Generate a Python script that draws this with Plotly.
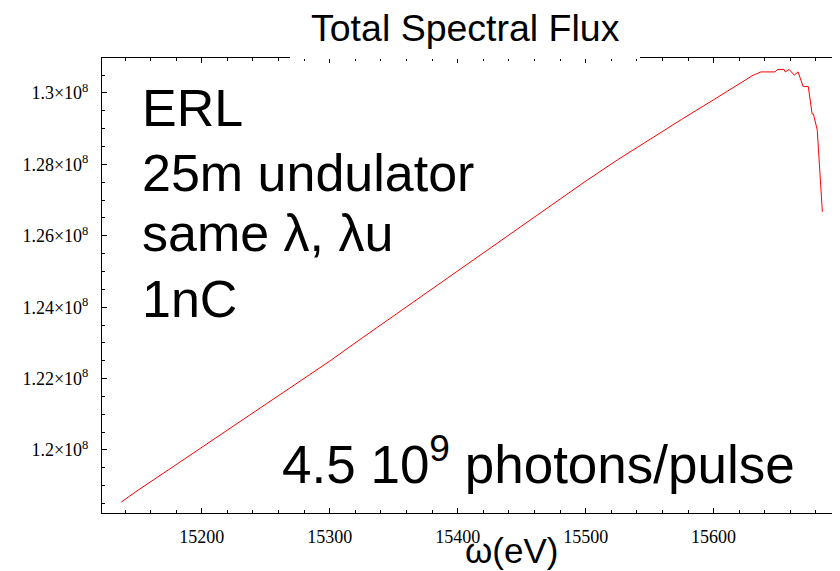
import plotly.graph_objects as go

# Data
energy_eV = [15137, 15150, 15175, 15200, 15225, 15250, 15275, 15300, 15325, 15350,
             15375, 15400, 15425, 15450, 15475, 15500, 15525, 15550, 15575, 15600,
             15623, 15630, 15637, 15648, 15650, 15655, 15656, 15659, 15663, 15666,
             15670, 15674, 15677, 15678, 15681, 15685]
flux = [1.1854e8, 1.1887e8, 1.1947e8, 1.2007e8, 1.2067e8, 1.2128e8, 1.2188e8, 1.2249e8,
        1.2313e8, 1.2376e8, 1.2439e8, 1.2502e8, 1.2565e8, 1.2628e8, 1.2691e8, 1.2753e8,
        1.2813e8, 1.2870e8, 1.2926e8, 1.2981e8, 1.3031e8, 1.3048e8, 1.3059e8, 1.3059e8,
        1.3066e8, 1.3066e8, 1.3059e8, 1.3066e8, 1.3050e8, 1.3059e8, 1.3018e8, 1.3018e8,
        1.2941e8, 1.2941e8, 1.2896e8, 1.2667e8]

x_ticks = [15200, 15300, 15400, 15500, 15600]
x_tick_text = ["15200", "15300", "15400", "15500", "15600"]
y_tick_vals = [1.20e8, 1.22e8, 1.24e8, 1.26e8, 1.28e8, 1.30e8]
y_tick_text = ["1.2×10<sup>8</sup>", "1.22×10<sup>8</sup>", "1.24×10<sup>8</sup>",
               "1.26×10<sup>8</sup>", "1.28×10<sup>8</sup>", "1.3×10<sup>8</sup>"]

title_text = "Total Spectral Flux"
x_title = "ω(eV)"
note_lines = ["ERL", "25m undulator", "same λ, λu", "1nC"]
photons_text = "4.5 10<sup>9</sup> photons/pulse"

# page has an 8px body margin; the figure is sized to end at the window edge
OFF = 8
W, H = 840 - OFF, 571 - OFF
L, R, T, B = 102, 839, 58, 513  # plot frame in window pixels


def px(x):
    return (x - L) / (R - L)


def py(y):
    return (B - y) / (B - T)


fig = go.Figure()
fig.add_trace(go.Scatter(x=energy_eV, y=flux, mode="lines",
                         line=dict(color="#ff0000", width=1), showlegend=False))

serif = "Liberation Serif, Times New Roman, serif"
sans = "Liberation Sans, Arial, sans-serif"

fig.update_layout(
    width=W, height=H,
    margin=dict(l=L - OFF, r=W - (R - OFF), t=T - OFF, b=H - (B - OFF), autoexpand=False),
    paper_bgcolor="white", plot_bgcolor="white",
    xaxis=dict(range=[15122, 15698], tickvals=x_ticks, ticktext=x_tick_text,
               ticks="inside", ticklen=5, automargin=False,
               tickcolor="black", showline=True, linecolor="black", linewidth=1,
               mirror="allticks", showgrid=False, zeroline=False,
               tickfont=dict(family=serif, size=18, color="black"),
               ticklabelstandoff=7,
               minor=dict(dtick=20, ticks="inside", ticklen=3, tickcolor="black", showgrid=False)),
    yaxis=dict(range=[1.18235e8, 1.3098e8], tickvals=y_tick_vals, ticktext=y_tick_text,
               ticks="inside", ticklen=5, tickcolor="black", showline=True, automargin=False,
               linecolor="black", linewidth=1, mirror="allticks", showgrid=False,
               zeroline=False, tickfont=dict(family=serif, size=18, color="black"),
               ticklabelstandoff=9,
               minor=dict(tick0=1.2e8, dtick=5e5, ticks="inside", ticklen=3,
                          tickcolor="black", showgrid=False)),
)

# white box behind the title hiding part of the top frame line
fig.add_shape(type="rect", xref="paper", yref="paper", layer="above",
              x0=px(290), x1=px(640), y0=py(59), y1=py(0),
              fillcolor="white", line=dict(width=0))

anns = []
anns.append(dict(text=title_text, x=px(465), y=py(28), xref="paper", yref="paper",
                 xanchor="center", yanchor="middle", showarrow=False,
                 font=dict(family=sans, size=37.5, color="black")))
anns.append(dict(text=x_title, x=px(511), y=py(550), xref="paper", yref="paper",
                 xanchor="center", yanchor="middle", showarrow=False,
                 font=dict(family=sans, size=35, color="black")))
centers = [108, 173, 233, 299]
for line, cy in zip(note_lines, centers):
    anns.append(dict(text=line, x=px(140), y=py(cy), xref="paper", yref="paper",
                     xanchor="left", yanchor="middle", showarrow=False,
                     font=dict(family=sans, size=52, color="black")))
anns.append(dict(text=photons_text, x=px(797), y=py(460), xref="paper", yref="paper",
                 xanchor="right", yanchor="middle", showarrow=False,
                 font=dict(family=sans, size=53, color="black")))
fig.update_layout(annotations=anns)

fig.write_html("out.html")
